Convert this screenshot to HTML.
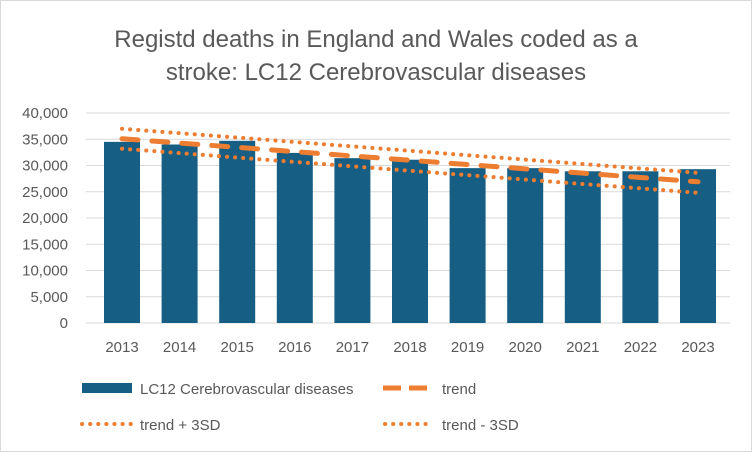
<!DOCTYPE html>
<html><head><meta charset="utf-8"><style>
body{margin:0;background:#fff;}
svg{display:block;font-family:"Liberation Sans",sans-serif;}
</style></head><body>
<svg width="752" height="452" viewBox="0 0 752 452">
<rect x="0.5" y="0.5" width="751" height="451" fill="#fff" stroke="#d9d9d9"/>
<text x="376" y="47" text-anchor="middle" font-size="24" fill="#595959">Registd deaths in England and Wales coded as a</text>
<text x="376" y="80" text-anchor="middle" font-size="24" fill="#595959">stroke: LC12 Cerebrovascular diseases</text>
<g id="grid"></g><g id="bars"></g><g id="lines"></g><g id="xl"></g>
<g>
<rect x="82" y="383" width="50" height="10" fill="#165e83"/>
<text x="140" y="394" font-size="15" fill="#595959">LC12 Cerebrovascular diseases</text>
<line x1="383" y1="388" x2="433" y2="388" stroke="#ed7d31" stroke-width="5" stroke-dasharray="18,8"/>
<text x="442" y="394" font-size="15" fill="#595959">trend</text>
<line x1="82" y1="424" x2="132" y2="424" stroke="#ed7d31" stroke-width="4" stroke-linecap="round" stroke-dasharray="0.1,8"/>
<text x="140" y="430" font-size="15" fill="#595959">trend + 3SD</text>
<line x1="385" y1="424" x2="433" y2="424" stroke="#ed7d31" stroke-width="4" stroke-linecap="round" stroke-dasharray="0.1,8"/>
<text x="442" y="430" font-size="15" fill="#595959">trend - 3SD</text>
</g>
</svg>
<script>
const years=["2013","2014","2015","2016","2017","2018","2019","2020","2021","2022","2023"];
const deaths=[34500,34000,34700,32400,31400,31100,29500,29500,28900,28900,29300];
const trend=[35100,34280,33460,32640,31820,31000,30180,29360,28540,27720,26900];
const upper=[37000,36160,35320,34480,33640,32800,31960,31120,30280,29440,28600];
const lower=[33200,32360,31520,30680,29840,29000,28160,27320,26480,25640,24800];
const yTicks=[0,5000,10000,15000,20000,25000,30000,35000,40000];
const NS="http://www.w3.org/2000/svg";
const y=v=>323-v*210/40000;
const x=i=>122+i*57.6;
function mk(p,t,a){const e=document.createElementNS(NS,t);for(const k in a)e.setAttribute(k,a[k]);document.getElementById(p).appendChild(e);return e;}
yTicks.forEach(v=>{
 const l=mk('grid','line',{x1:86,x2:730,y1:y(v),y2:y(v),stroke:'#d9d9d9','stroke-width':1});
 
 
 const t=mk('grid','text',{x:68,y:y(v)+5,'text-anchor':'end','font-size':15,fill:'#595959'});
 t.textContent=v.toLocaleString('en-US');
 
 
});
deaths.forEach((v,i)=>{
 const r=mk('bars','rect',{x:x(i)-18,y:y(v),width:36,height:y(0)-y(v),fill:'#165e83'});
 
 
 const t=mk('xl','text',{x:x(i),y:352,'text-anchor':'middle','font-size':15,fill:'#595959'});
 t.textContent=years[i];
 
 
});
function line(arr,name,dash,w){
 const p=mk('lines','polyline',{points:arr.map((v,i)=>x(i)+','+y(v)).join(' '),fill:'none',stroke:'#ed7d31','stroke-width':w,'stroke-dasharray':dash,'stroke-linecap':'round'});
 
 
}
line(trend,'trend-line','16,14',5);
line(upper,'upper-3sd-line','0.1,8',4);
line(lower,'lower-3sd-line','0.1,8',4);
</script>
</body></html>
